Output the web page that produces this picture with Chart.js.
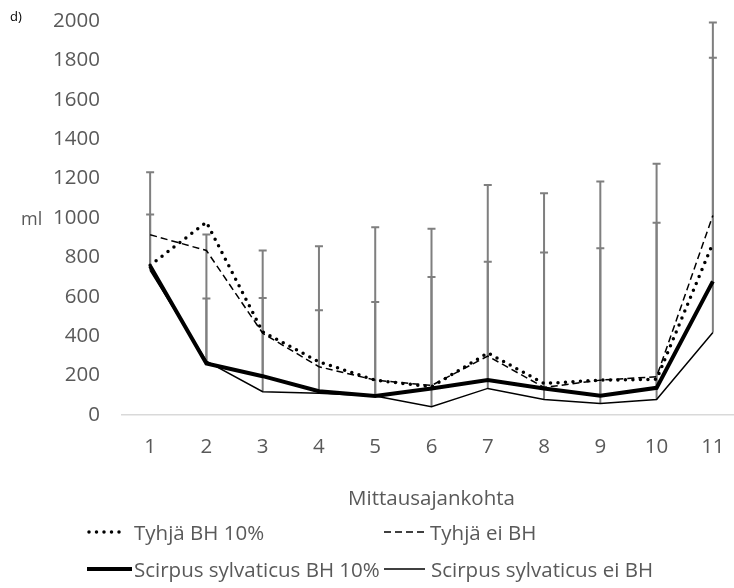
<!DOCTYPE html>
<html><head><meta charset="utf-8">
<script src="https://cdn.jsdelivr.net/npm/chart.js@4.4.1/dist/chart.umd.min.js"></script>
<style>
html,body{margin:0;padding:0;overflow:hidden;background:#fff;width:734px;height:588px}
#wrap{position:relative;width:741px;height:588px}
canvas{position:absolute;left:0;top:0}
.lbl{position:absolute;font-family:'Open Sans';color:#595959;white-space:nowrap;line-height:1}
.leg{position:absolute;display:flex;align-items:center;height:30px;font-family:'Open Sans';font-size:20.5px;color:#595959;white-space:nowrap}
.leg svg{display:block;margin-right:1px}
</style></head><body>
<div id="wrap">
<canvas id="c" width="741" height="588"></canvas>
<div class="lbl" style="left:10px;top:10px;font-size:13px;color:#000">d)</div>
<div class="lbl" style="left:21px;top:209px;font-size:18px">ml</div>
<div id="legend"></div>
</div>
<script>
// ---- data ----
const categories = ['1','2','3','4','5','6','7','8','9','10','11'];
const yTicks = [0,200,400,600,800,1000,1200,1400,1600,1800,2000];
const tyhjaBH10   = [760, 979, 422, 270, 177, 143, 315, 160, 177, 181, 872];
const tyhjaEiBH   = [915, 835, 415, 245, 177, 150, 299, 140, 177, 194, 1013];
const scirpusBH10 = [756, 262, 197, 121, 96, 135, 177, 135, 98, 138, 678];
const scirpusEiBH = [734, 273, 118, 110, 96, 42, 135, 79, 59, 79, 419];
// upper ends of the error bars
const scirpusBH10Upper = [1018, 591, 594, 532, 574, 700, 778, 825, 846, 976, 1814];
const scirpusEiBHUpper = [1232, 916, 835, 856, 953, 945, 1168, 1126, 1185, 1276, 1993];
const seriesNames = ['Tyhjä BH 10%', 'Tyhjä ei BH', 'Scirpus sylvaticus BH 10%', 'Scirpus sylvaticus ei BH'];

const styles = [
  {borderWidth:3.5, borderDash:[0,7.5], borderCapStyle:'round'},
  {borderWidth:1.5, borderDash:[7,4], borderCapStyle:'butt'},
  {borderWidth:4, borderDash:[], borderCapStyle:'butt'},
  {borderWidth:1.5, borderDash:[], borderCapStyle:'butt'}
];
const values = [tyhjaBH10, tyhjaEiBH, scirpusBH10, scirpusEiBH];
const uppers = [null, null, scirpusBH10Upper, scirpusEiBHUpper];

const datasets = values.map((v,i)=>Object.assign({
  label: seriesNames[i], data: v, borderColor:'#000', backgroundColor:'#000',
  pointRadius:0, pointHoverRadius:0, tension:0, fill:false, borderJoinStyle:'miter',
  errUpper: uppers[i]
}, styles[i]));

const errorBars = {
  id:'errorBars',
  beforeDatasetsDraw(chart){
    const ctx = chart.ctx, xs = chart.scales.x, ys = chart.scales.y;
    ctx.save();
    ctx.strokeStyle = '#7f7f7f';
    ctx.lineWidth = 2;
    chart.data.datasets.forEach(ds=>{
      if(!ds.errUpper) return;
      ds.data.forEach((v,i)=>{
        const x = xs.getPixelForValue(i);
        const y0 = ys.getPixelForValue(v);
        const y1 = ys.getPixelForValue(ds.errUpper[i]);
        ctx.beginPath();
        ctx.moveTo(x,y0); ctx.lineTo(x,y1);
        ctx.moveTo(x-4,y1); ctx.lineTo(x+4,y1);
        ctx.stroke();
      });
    });
    ctx.restore();
  }
};

new Chart(document.getElementById('c'), {
  type:'line',
  data:{labels:categories, datasets},
  options:{
    responsive:false, animation:false,
    layout:{padding:{top:21,left:0,right:0,bottom:73}},
    plugins:{legend:{display:false}, tooltip:{enabled:false}},
    scales:{
      x:{
        offset:true,
        grid:{display:false, drawTicks:false},
        border:{display:true, color:'#d9d9d9', width:1.5},
        ticks:{color:'#595959', font:{family:'Open Sans', size:20.5}, padding:20, maxRotation:0},
        title:{display:true, text:'Mittausajankohta', color:'#595959', font:{family:'Open Sans', size:20.5}, padding:{top:0,bottom:4}},
        afterFit(s){ s.height = 100; s.paddingLeft = 0; s.paddingRight = 0; }
      },
      y:{
        min:0, max:2000,
        afterBuildTicks(s){ s.ticks = yTicks.map(v=>({value:v})); },
        grid:{display:false, drawTicks:false},
        border:{display:false},
        ticks:{color:'#595959', font:{family:'Open Sans', size:20.5}, padding:22, callback:(v)=>String(v)},
        afterFit(s){ s.width = 122; s.paddingTop = 0; s.paddingBottom = 0; }
      }
    }
  },
  plugins:[errorBars]
});

// ---- legend (HTML) ----
const legPos = [
  {left:87, top:517}, {left:384, top:517},
  {left:87, top:554}, {left:384, top:554}
];
const sampleW = [37, 40, 45, 41];
const leg = document.getElementById('legend');
seriesNames.forEach((name,i)=>{
  const st = styles[i];
  const w = sampleW[i];
  const dash = st.borderDash.length ? `stroke-dasharray="${st.borderDash.join(' ')}"` : '';
  const x0 = st.borderCapStyle==='round' ? 2 : 0;
  const x1 = st.borderCapStyle==='round' ? w-2 : w;
  const div = document.createElement('div');
  div.className='leg';
  div.style.left = legPos[i].left+'px';
  div.style.top = legPos[i].top+'px';
  div.innerHTML = `<svg width="${w}" height="10"><line x1="${x0}" y1="5" x2="${x1}" y2="5" stroke="#000" stroke-width="${st.borderWidth}" stroke-linecap="${st.borderCapStyle}" ${dash}/></svg><span style="margin-left:${i%2===0 && i!==2 ? 9 : (i===2?1:5)}px">${name}</span>`;
  leg.appendChild(div);
});
</script>
</body></html>
